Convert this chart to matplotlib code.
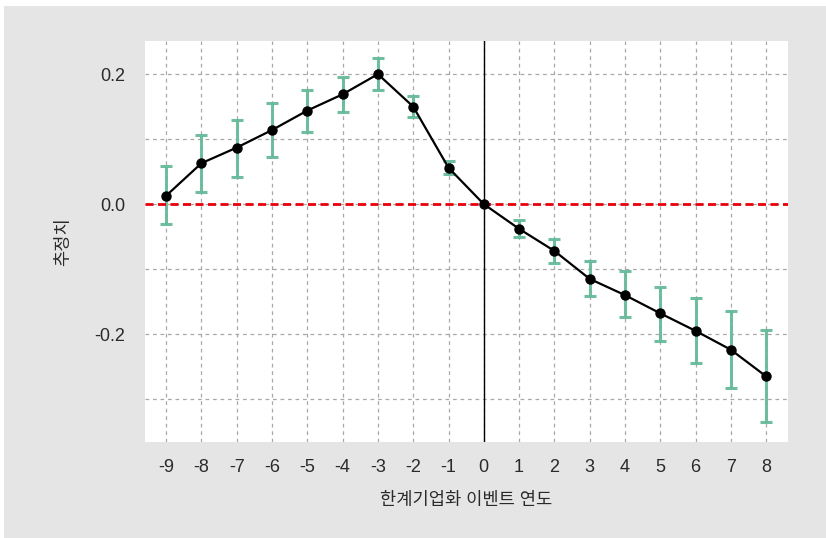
import numpy as np
import matplotlib
matplotlib.use("Agg")
import matplotlib.pyplot as plt
from matplotlib.patches import Rectangle
from matplotlib.ticker import FormatStrFormatter, MultipleLocator

plt.rcParams["font.family"] = ["Liberation Sans", "Noto Sans CJK KR", "DejaVu Sans"]
plt.rcParams["axes.unicode_minus"] = False

# event-study estimates with confidence bounds
years = [-9, -8, -7, -6, -5, -4, -3, -2, -1, 0, 1, 2, 3, 4, 5, 6, 7, 8]
estimate = [0.013, 0.063, 0.087, 0.114, 0.144, 0.169, 0.200, 0.150, 0.056, 0.0,
            -0.038, -0.072, -0.115, -0.140, -0.168, -0.195, -0.224, -0.265]
lower = [-0.031, 0.018, 0.042, 0.072, 0.111, 0.142, 0.176, 0.134, 0.046, 0.0,
         -0.050, -0.091, -0.142, -0.174, -0.210, -0.245, -0.283, -0.335]
upper = [0.058, 0.107, 0.130, 0.155, 0.176, 0.196, 0.225, 0.166, 0.066, 0.0,
         -0.025, -0.054, -0.088, -0.103, -0.127, -0.145, -0.164, -0.194]

W, H = 826, 538
fig = plt.figure(figsize=(W / 100, H / 100), dpi=100, facecolor="white")
fig.patches.append(Rectangle((4 / W, 0), 1 - 4 / W, 1 - 6 / H,
                             transform=fig.transFigure, facecolor="#e5e5e5",
                             edgecolor="none", zorder=-10))

ax = fig.add_axes([145 / W, (H - 442) / H, 643 / W, 401 / H])
ax.set_facecolor("white")

est = np.array(estimate)
yerr = np.vstack([est - np.array(lower), np.array(upper) - est])
mask = np.array(years) != 0
ax.errorbar(np.array(years)[mask], est[mask], yerr=yerr[:, mask], fmt="none",
            ecolor="#66bb9a", elinewidth=2.2, capsize=4.5, capthick=2.2,
            alpha=0.95, zorder=3)
ax.plot(years, estimate, color="black", lw=1.6, marker="o", ms=6.5, zorder=5)

ax.axhline(0, color="#e8000b", lw=2, ls=(0, (2.9, 1.6)), zorder=4)
ax.axvline(0, color="black", lw=1, zorder=2)

ax.set_xlim(-9.6, 8.62)
ax.set_ylim(-0.366, 0.251)
ax.set_xticks(years)
ax.yaxis.set_major_locator(MultipleLocator(0.2))
ax.yaxis.set_minor_locator(MultipleLocator(0.1))
ax.yaxis.set_major_formatter(FormatStrFormatter("%.1f"))
ax.grid(True, which="both", color="#a8a8a8", ls=(0, (3, 3)), lw=0.9, zorder=0)
ax.set_axisbelow(True)
ax.tick_params(which="both", length=0, labelsize=13, colors="#2a2a2a")
ax.tick_params(axis="y", pad=14)
ax.tick_params(axis="x", pad=12)
for s in ax.spines.values():
    s.set_visible(False)

ax.set_xlabel("한계기업화 이벤트 연도", fontsize=12.7, color="#2a2a2a", labelpad=12)
ax.set_ylabel("추정치", fontsize=12.7, color="#2a2a2a", labelpad=16)

fig.savefig("out.png", dpi=100, facecolor=fig.get_facecolor())
